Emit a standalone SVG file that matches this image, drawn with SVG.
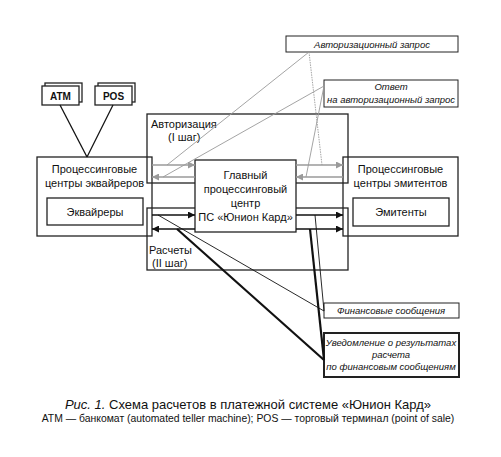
<svg xmlns="http://www.w3.org/2000/svg" width="501" height="457" viewBox="0 0 501 457">
<defs>
<marker id="ag" viewBox="0 0 10 10" refX="10" refY="5" markerWidth="9" markerHeight="7" markerUnits="userSpaceOnUse" orient="auto"><path d="M0,0 L10,5 L0,10 z" fill="#9a9a9a"/></marker>
<marker id="ab" viewBox="0 0 10 10" refX="10" refY="5" markerWidth="9" markerHeight="7" markerUnits="userSpaceOnUse" orient="auto"><path d="M0,0 L10,5 L0,10 z" fill="#111"/></marker>
</defs>
<style>
.box{fill:none;stroke:#222;stroke-width:1.3}
.wbox{fill:#fff;stroke:#222;stroke-width:1.3}
.t{font-family:"Liberation Sans",Arial,sans-serif;font-size:11px;fill:#111;text-anchor:middle}
.tl{font-family:"Liberation Sans",Arial,sans-serif;font-size:11px;fill:#111}
.c{font-family:"Liberation Sans",Arial,sans-serif;font-size:9.5px;font-style:italic;fill:#111;text-anchor:middle}
.ga{stroke:#9a9a9a;stroke-width:1.3;fill:none}
.ba{stroke:#111;stroke-width:1.4;fill:none}
.gl{stroke:#9a9a9a;stroke-width:0.9;fill:none}
.bl{stroke:#111;stroke-width:0.9;fill:none}
.bt{stroke:#111;stroke-width:2.2;fill:none}
</style>
<rect width="501" height="457" fill="#fff"/>
<g id="atm">
<rect x="45" y="83" width="37" height="19" class="wbox"/>
<rect x="42" y="86" width="37" height="19" class="wbox"/>
<text x="60.5" y="99.5" class="t" style="font-weight:bold;font-size:10px">ATM</text>
</g>
<g id="pos">
<rect x="98" y="83" width="37" height="19" class="wbox"/>
<rect x="95" y="86" width="37" height="19" class="wbox"/>
<text x="113.5" y="99.5" class="t" style="font-weight:bold;font-size:10px">POS</text>
</g>
<g id="acquirers">
<rect x="37" y="157" width="115" height="79" class="box"/>
<text x="94.5" y="173" class="t">Процессинговые</text>
<text x="94.5" y="187" class="t">центры эквайреров</text>
<rect x="47" y="198" width="96" height="27" class="box"/>
<text x="95" y="216" class="t">Эквайреры</text>
</g>
<g id="issuers">
<rect x="343" y="157" width="115" height="79" class="box"/>
<text x="400.5" y="173" class="t">Процессинговые</text>
<text x="400.5" y="187" class="t">центры эмитентов</text>
<rect x="353" y="198" width="96" height="28" class="box"/>
<text x="401" y="216" class="t">Эмитенты</text>
</g>
<g id="authorization">
<rect x="147" y="114" width="201" height="69" class="box"/>
<text x="151" y="128" class="tl">Авторизация</text>
<text x="168" y="141" class="tl">(I шаг)</text>
</g>
<g id="settlement">
<rect x="147" y="208" width="201" height="62" class="box"/>
<text x="149" y="254" class="tl">Расчеты</text>
<text x="152" y="267" class="tl">(II шаг)</text>
</g>
<g id="center">
<rect x="195" y="160" width="101" height="72" class="wbox"/>
<text x="245.5" y="179" class="t">Главный</text>
<text x="245.5" y="193" class="t">процессинговый</text>
<text x="245.5" y="207" class="t">центр</text>
<text x="245.5" y="221" class="t">ПС «Юнион Кард»</text>
</g>
<g id="auth-request">
<rect x="286" y="36" width="172" height="16" class="box" style="stroke-width:1"/>
<text x="372" y="47.5" class="c">Авторизационный запрос</text>
</g>
<g id="auth-response">
<rect x="324" y="80" width="134" height="27" class="box" style="stroke-width:1"/>
<text x="391" y="90" class="c">Ответ</text>
<text x="391" y="103" class="c">на авторизационный запрос</text>
</g>
<g id="fin-messages">
<rect x="324" y="303" width="135" height="15" class="box" style="stroke-width:1"/>
<text x="391" y="314" class="c">Финансовые сообщения</text>
</g>
<g id="notification">
<rect x="324" y="333" width="135" height="44" class="box" style="stroke-width:2"/>
<text x="391" y="346" class="c">Уведомление о результатах</text>
<text x="391" y="358" class="c">расчета</text>
<text x="391" y="370" class="c">по финансовым сообщениям</text>
</g>
<g id="connectors">
<line x1="60" y1="105" x2="87" y2="157" class="ba" style="stroke-width:1.3"/>
<line x1="113" y1="105" x2="87" y2="157" class="ba" style="stroke-width:1.3"/>
<line x1="152" y1="165" x2="195" y2="165" class="ga" marker-end="url(#ag)"/>
<line x1="195" y1="177" x2="152" y2="177" class="ga" marker-end="url(#ag)"/>
<line x1="296" y1="165" x2="343" y2="165" class="ga" marker-end="url(#ag)"/>
<line x1="343" y1="177" x2="296" y2="177" class="ga" marker-end="url(#ag)"/>
<line x1="152" y1="215" x2="195" y2="215" class="ba" marker-end="url(#ab)"/>
<line x1="195" y1="229" x2="152" y2="229" class="ba" marker-end="url(#ab)"/>
<line x1="296" y1="215" x2="343" y2="215" class="ba" marker-end="url(#ab)"/>
<line x1="296" y1="229" x2="343" y2="229" class="ba" marker-end="url(#ab)"/>
<line x1="309" y1="52" x2="167" y2="165" class="gl"/>
<line x1="309" y1="52" x2="322" y2="165" class="gl" stroke-dasharray="1.5,1"/>
<line x1="324" y1="86" x2="163" y2="177" class="gl"/>
<line x1="324" y1="86" x2="306" y2="177" class="gl"/>
<line x1="158" y1="215" x2="324" y2="311" class="bl"/>
<line x1="315" y1="215" x2="324" y2="311" class="bl"/>
<line x1="177" y1="229" x2="324" y2="360" class="bt"/>
<line x1="310" y1="229" x2="324" y2="360" class="bt"/>
</g>
<g id="caption">
<text x="248" y="409" class="t" style="font-size:13px"><tspan font-style="italic">Рис. 1.</tspan> Схема расчетов в платежной системе «Юнион Кард»</text>
<text x="248" y="422" class="t" style="font-size:10.4px">ATM — банкомат (automated teller machine); POS — торговый терминал (point of sale)</text>
</g>
</svg>
